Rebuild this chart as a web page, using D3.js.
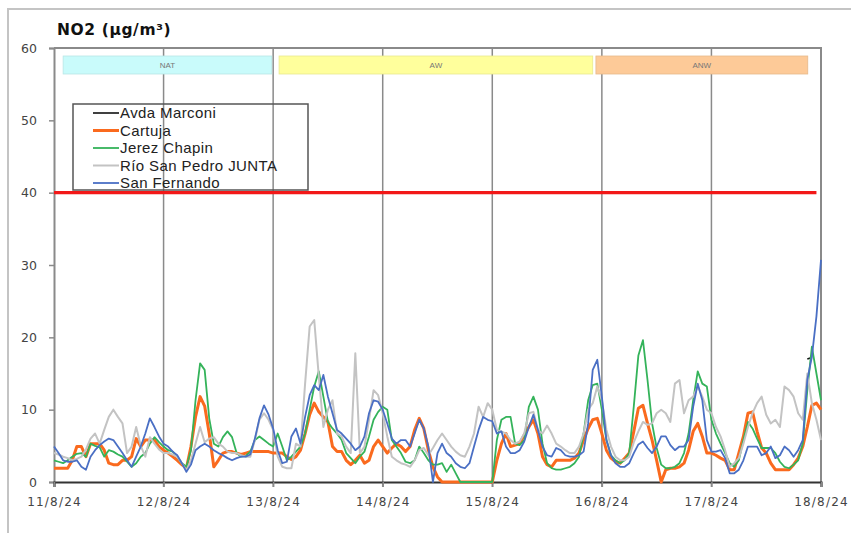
<!DOCTYPE html>
<html><head><meta charset="utf-8">
<script src="https://cdn.jsdelivr.net/npm/d3@7"></script>
<style>
html,body{margin:0;padding:0;background:#fff;}
svg{display:block;}
</style></head>
<body>
<svg id="chart" width="851" height="533"></svg>
<script>
// ---------- DATA ----------
const title = "NO2 (µg/m³)";
const startDate = new Date(2024, 7, 11, 0, 0);   // 11/8/24 00:00, hourly values
const endDate = new Date(2024, 7, 18, 0, 0);
const yTicks = [0, 10, 20, 30, 40, 50, 60];
const limitValue = 40;
const limitHours = [0, 167];

const seriesNames = ["Avda Marconi", "Cartuja", "Jerez Chapin", "Río San Pedro JUNTA", "San Fernando"];
const seriesColors = ["#111111", "#fa6a1e", "#34b35a", "#c3c3c3", "#4a6fc4"];
const seriesWidths = [1.6, 3, 1.8, 2, 1.8];

const bandLabels = ["NAT", "AW", "ANW"];
const bandStartHour = [2, 49.3, 118.7];
const bandEndHour = [47.7, 118, 165.1];
const bandColors = ["#c9fbfb", "#ffff9c", "#fdca98"];

const avdaMarconi = [];
for (let i = 0; i < 169; i++) avdaMarconi.push(null);
avdaMarconi[165] = 17.0; avdaMarconi[166] = 17.2;

const cartuja = [
1.9,1.9,1.9,1.9,3.0,4.9,4.9,3.5,5.3,5.3,
5.3,4.4,2.6,2.4,2.4,3.0,3.0,3.5,6.0,4.9,
5.8,5.8,5.8,4.9,4.4,4.0,3.5,3.0,2.4,1.9,
4.9,9.0,11.8,10.5,6.7,2.1,3.0,4.0,4.2,4.2,
4.0,3.8,4.0,4.2,4.2,4.2,4.2,4.2,4.0,4.0,
4.0,3.5,3.1,3.5,4.4,6.7,9.3,10.9,9.7,9.0,
8.3,4.9,4.2,4.2,3.0,2.4,3.0,3.7,2.6,3.0,
4.9,5.8,4.9,4.0,4.7,5.3,4.9,4.2,4.9,7.2,
8.8,7.4,4.4,2.1,0.7,0,0,0,0,0,
0,0,0,0,0,0,0,3.0,5.3,6.7,
4.9,5.1,5.3,6.5,7.6,8.6,6.7,3.5,2.4,2.1,
3.0,3.0,3.0,3.0,3.3,4.0,5.8,7.4,8.6,8.8,
6.7,4.4,3.3,2.8,2.6,3.3,4.0,7.0,10.2,10.6,
8.1,5.8,3.0,0,1.7,1.9,1.9,2.1,2.6,4.4,
7.0,8.1,6.3,4.0,4.0,3.7,3.3,3.0,1.7,1.7,
4.0,6.3,9.5,9.7,7.0,4.7,4.0,2.6,1.7,1.7,
1.7,1.7,2.4,3.3,4.9,7.6,10.6,10.9,10.0];

const jerezChapin = [
3.0,2.8,2.6,3.0,3.5,3.9,4.0,3.5,5.3,5.0,
4.8,3.5,4.4,4.2,3.8,3.5,2.8,2.1,2.6,3.5,
4.0,5.3,6.2,5.5,4.9,4.4,4.2,3.5,2.6,2.1,
4.4,11.3,16.4,15.5,8.8,5.3,4.9,6.2,7.0,6.2,
4.0,3.5,3.6,4.2,5.8,6.3,5.8,5.3,4.9,6.7,
4.9,3.0,3.5,4.2,4.9,6.7,10.0,13.2,15.3,11.8,
8.3,7.4,6.7,5.8,4.0,3.3,2.6,3.5,4.2,6.3,
8.6,9.7,10.4,10.0,5.8,4.9,4.0,2.8,2.6,3.0,
4.9,4.0,3.0,2.4,2.4,2.6,1.4,2.4,1.2,0,
0,0,0,0,0,0,0,5.8,8.6,9.0,
9.0,5.3,5.1,5.8,10.4,11.8,10.0,5.3,2.6,1.9,
1.7,1.7,1.9,2.1,2.6,3.5,6.7,11.3,13.4,13.6,
10.0,5.8,3.7,3.0,2.6,3.0,4.0,10.5,17.5,19.6,
14.1,8.1,4.7,2.4,1.9,1.9,2.1,2.6,4.0,6.7,
11.3,15.3,13.6,13.2,8.6,6.7,5.3,4.0,2.6,2.1,
3.0,5.8,8.3,7.4,6.0,4.7,4.7,4.7,4.0,2.8,
2.1,1.9,2.4,3.0,5.3,12.7,18.7,15.0,11.3];

const rioSanPedro = [
4.0,3.8,3.5,3.3,3.0,3.2,3.5,4.5,6.0,6.7,
5.3,7.2,9.0,10.0,9.0,8.1,4.0,4.9,7.6,5.0,
3.5,6.2,5.3,4.5,4.0,4.0,3.8,3.5,2.6,1.6,
3.0,5.3,7.6,5.5,6.0,6.2,5.3,4.9,4.2,4.0,
4.0,3.7,3.5,3.5,5.8,8.6,9.5,8.6,7.2,3.5,
2.1,1.9,1.9,5.3,4.9,13.6,21.5,22.4,14.6,7.6,
10.0,11.3,6.7,6.3,4.9,4.0,17.8,4.0,4.9,8.6,
12.7,12.0,9.5,6.3,3.5,3.0,2.6,2.4,2.1,3.0,
4.4,4.7,3.7,4.7,5.8,6.7,5.8,4.9,4.2,3.7,
3.5,4.9,6.7,10.4,9.0,10.9,10.0,7.2,7.0,6.7,
5.8,5.3,5.6,6.7,9.5,9.7,7.2,6.7,7.8,6.7,
5.3,4.9,4.4,4.0,4.0,4.9,6.7,10.0,10.9,13.2,
11.3,7.2,4.9,3.5,3.0,3.0,3.5,5.5,7.0,8.3,
7.9,8.1,9.5,10.0,9.5,8.3,13.6,14.1,9.5,11.3,
11.8,13.2,11.8,10.0,9.5,7.6,6.3,4.4,2.1,2.6,
3.3,5.3,7.6,9.5,10.9,11.8,9.3,8.1,8.6,7.6,
13.2,12.7,11.8,9.5,8.6,15.0,10.9,8.6,5.8];

const sanFernando = [
4.9,4.0,3.0,2.8,2.8,3.0,2.1,1.7,3.5,4.4,
5.1,5.6,6.0,5.8,4.9,4.0,3.0,2.1,3.5,4.9,
6.7,8.8,7.6,6.3,5.3,4.9,4.2,3.7,2.6,1.4,
2.4,4.4,4.9,5.3,4.9,4.4,4.0,3.7,3.3,3.0,
3.3,3.5,3.5,3.8,6.0,8.8,10.6,9.3,7.4,4.4,
2.6,2.8,6.3,7.4,5.3,9.0,12.0,13.4,12.7,14.8,
11.8,9.5,7.2,6.7,6.0,5.3,4.4,4.9,6.3,9.5,
11.3,11.1,10.0,8.1,6.0,5.3,5.8,5.8,4.9,6.7,
8.6,7.4,4.9,0,4.0,5.3,4.0,3.5,2.6,2.1,
1.9,2.6,4.9,7.2,9.0,8.6,8.4,6.7,7.0,4.9,
4.0,4.0,4.4,5.6,7.6,9.3,7.2,4.9,3.7,3.5,
4.7,4.4,3.7,3.5,3.5,3.7,4.2,8.1,15.5,16.9,
11.8,5.8,3.7,2.6,2.1,2.1,2.6,4.0,5.2,5.6,
4.7,4.0,4.9,6.3,6.3,5.1,4.4,4.9,4.9,5.8,
10.4,13.6,11.3,5.8,4.2,4.2,4.4,3.3,1.2,1.2,
1.7,3.0,4.9,4.9,4.9,3.7,4.0,4.9,3.3,3.7,
4.9,4.4,3.5,4.4,5.8,14.1,17.3,22.9,30.7];

const seriesValues = [avdaMarconi, cartuja, jerezChapin, rioSanPedro, sanFernando];

// ---------- CHART ----------
const svg = d3.select("#chart");
const W = 851, H = 533;
const plot = {left: 54, right: 821, top: 48, bottom: 482};
const hourMs = 3600 * 1000;
const tAt = h => new Date(startDate.getTime() + h * hourMs);

const x = d3.scaleTime().domain([startDate, endDate]).range([plot.left, plot.right]);
const y = d3.scaleLinear().domain([0, 60]).range([plot.bottom, plot.top]);

svg.append("rect").attr("width", W).attr("height", H).attr("fill", "#fff");
// outer frame
svg.append("rect").attr("x", 8).attr("y", 9).attr("width", 870).attr("height", 560)
  .attr("fill", "none").attr("stroke", "#c4c4c4").attr("stroke-width", 2);

// title
svg.append("text").attr("x", 57).attr("y", 35).text(title)
  .attr("font-family", "DejaVu Sans").attr("font-weight", "bold").attr("font-size", 15.5)
  .attr("letter-spacing", 0.6).attr("fill", "#111");

// vertical gridlines (day)
const days = d3.timeDay.range(startDate, d3.timeDay.offset(endDate, 1));
svg.append("g").selectAll("line").data(days.slice(1, -1)).join("line")
  .attr("x1", d => x(d)).attr("x2", d => x(d))
  .attr("y1", plot.top).attr("y2", plot.bottom + 5)
  .attr("stroke", "#8a8a8a").attr("stroke-width", 1.5);

// plot frame top/right
svg.append("path")
  .attr("d", `M${plot.left},${plot.top}H${plot.right}V${plot.bottom}`)
  .attr("fill", "none").attr("stroke", "#8a8a8a").attr("stroke-width", 2);

// bands
const bands = svg.append("g");
bandLabels.forEach((lab, i) => {
  const x0 = x(tAt(bandStartHour[i])), x1 = x(tAt(bandEndHour[i]));
  bands.append("rect").attr("x", x0).attr("y", 56).attr("width", x1 - x0).attr("height", 18)
    .attr("fill", bandColors[i]).attr("stroke", d3.color(bandColors[i]).darker(0.25)).attr("stroke-width", 0.8);
  bands.append("text").attr("x", (x0 + x1) / 2).attr("y", 68).attr("text-anchor", "middle")
    .attr("font-family", "Liberation Sans").attr("font-size", 8).attr("fill", "#777").text(lab);
});

// y axis
const yAxis = d3.axisLeft(y).tickValues(yTicks).tickSize(5).tickPadding(12);
const gy = svg.append("g").attr("transform", `translate(${plot.left},0)`).call(yAxis);
gy.select(".domain").attr("stroke", "#8a8a8a").attr("stroke-width", 2);
gy.selectAll(".tick line").attr("stroke", "#8a8a8a").attr("stroke-width", 1.5);
gy.selectAll(".tick text").attr("font-family", "DejaVu Sans").attr("font-size", 12.5)
  .attr("fill", "#444");

// x axis
const xAxis = d3.axisBottom(x).tickValues(days).tickFormat(d3.timeFormat("%-d/%-m/%y"))
  .tickSize(5).tickPadding(10);
const gx = svg.append("g").attr("transform", `translate(0,${plot.bottom})`).call(xAxis);
gx.select(".domain").attr("stroke", "#333").attr("stroke-width", 2.2);
gx.selectAll(".tick line").attr("stroke", "#8a8a8a").attr("stroke-width", 1.5);
gx.selectAll(".tick text").attr("font-family", "DejaVu Sans").attr("font-size", 12)
  .attr("letter-spacing", 1.2).attr("fill", "#444");

// limit line
svg.append("line")
  .attr("x1", x(tAt(limitHours[0]))).attr("x2", x(tAt(limitHours[1])))
  .attr("y1", y(limitValue)).attr("y2", y(limitValue))
  .attr("stroke", "#f21818").attr("stroke-width", 3.2);

// series
const line = d3.line()
  .defined(d => d.v !== null)
  .x(d => x(tAt(d.h))).y(d => y(d.v))
  .curve(d3.curveLinear);
const gs = svg.append("g");
seriesValues.forEach((vals, i) => {
  const pts = vals.map((v, h) => ({h, v}));
  gs.append("path").datum(pts).attr("d", line)
    .attr("fill", "none").attr("stroke", seriesColors[i])
    .attr("stroke-width", seriesWidths[i]).attr("stroke-linejoin", "round");
});

// legend
const lg = svg.append("g");
lg.append("rect").attr("x", 73).attr("y", 104).attr("width", 235).attr("height", 86)
  .attr("fill", "none").attr("stroke", "#555").attr("stroke-width", 1.5);
seriesNames.forEach((name, i) => {
  const cy = 113 + i * 17.5;
  lg.append("line").attr("x1", 93).attr("x2", 119).attr("y1", cy).attr("y2", cy)
    .attr("stroke", seriesColors[i]).attr("stroke-width", seriesWidths[i]);
  lg.append("text").attr("x", 120).attr("y", cy + 5).text(name)
    .attr("font-family", "Liberation Sans").attr("font-size", 15)
    .attr("letter-spacing", 0.4).attr("fill", "#222");
});
</script>
</body></html>
